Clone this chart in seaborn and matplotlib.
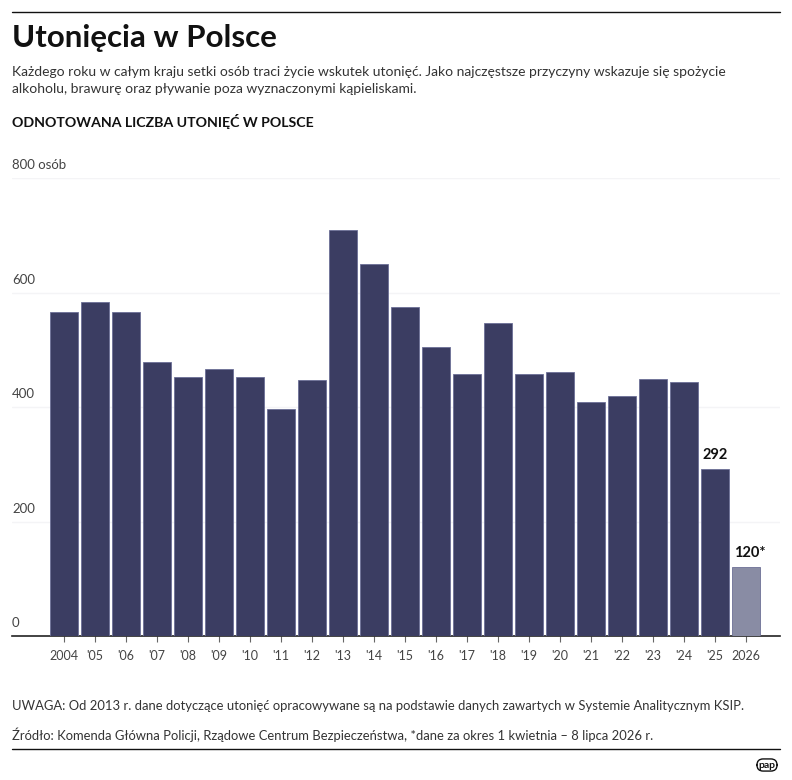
import matplotlib
matplotlib.use("Agg")
import matplotlib.pyplot as plt
import seaborn as sns
import pandas as pd

# data
years = ['2004', "'05", "'06", "'07", "'08", "'09", "'10", "'11", "'12", "'13", "'14",
         "'15", "'16", "'17", "'18", "'19", "'20", "'21", "'22", "'23", "'24", "'25", '2026']
drownings = [566, 584, 566, 478, 452, 467, 453, 396, 448, 710, 650,
             574, 505, 458, 546, 457, 461, 408, 419, 449, 444, 292, 120]
labelled = {"'25": '292', '2026': '120*'}
y_ticks = [0, 200, 400, 600, 800]
y_tick_labels = ['0', '200', '400', '600', '800 osób']

NAVY = '#343868'
LIGHT = '#8588a8'
FONT = ['Lato', 'DejaVu Sans']

W, H = 792, 780


def fx(px):
    return px / W


def fy(py):
    return 1 - py / H


sns.set_theme(style='white')
plt.rcParams['font.family'] = FONT

df = pd.DataFrame({'year': years, 'value': drownings})
colors = {y: (LIGHT if y == '2026' else NAVY) for y in years}

fig = plt.figure(figsize=(W / 100, H / 100), dpi=100)
ax = fig.add_axes([fx(12), fy(636), fx(780) - fx(12), fy(178) - fy(636)])

sns.barplot(data=df, x='year', y='value', hue='year', palette=colors, legend=False,
            width=0.9, edgecolor='#6c6f96', linewidth=0.6, ax=ax, zorder=3)

# bar centres are 31 px apart, first centre at x=64 px
ax.set_xlim((12 - 64) / 31, (780 - 64) / 31)
ax.set_ylim(0, 800)

for v in y_ticks[1:]:
    ax.axhline(v, color='#f4f4f6', lw=1, zorder=1)
for v, lab in zip(y_ticks, y_tick_labels):
    ax.annotate(lab, xy=(0, v), xycoords=('axes fraction', 'data'),
                xytext=(0, 5), textcoords='offset points',
                ha='left', va='bottom', fontsize=9.5, color='#444444')

ax.set_yticks([])
ax.set_xlabel('')
ax.set_ylabel('')
ax.tick_params(axis='x', length=4, width=0.8, color='#666666', pad=6,
               labelsize=9, labelcolor='#444444', bottom=True)
for s in ['top', 'right', 'left']:
    ax.spines[s].set_visible(False)
ax.spines['bottom'].set_color('#222222')
ax.spines['bottom'].set_linewidth(1.2)

for i, y in enumerate(years):
    if y in labelled:
        dx = 0.12 if y == '2026' else 0
        ax.annotate(labelled[y], xy=(i + dx, drownings[i]), xytext=(0, 5),
                    textcoords='offset points', ha='center', va='bottom',
                    fontsize=10.5, fontweight='bold', color='#111111')

# header
fig.add_artist(plt.Line2D([fx(12), fx(780)], [fy(12), fy(12)], color='#111111', lw=1))
fig.text(fx(12), fy(47), 'Utonięcia w Polsce', fontsize=22.5, fontweight='bold',
         color='#111111', va='baseline')
fig.text(fx(12), fy(76), 'Każdego roku w całym kraju setki osób traci życie wskutek utonięć. '
         'Jako najczęstsze przyczyny wskazuje się spożycie', fontsize=10, color='#333333', va='baseline')
fig.text(fx(12), fy(93), 'alkoholu, brawurę oraz pływanie poza wyznaczonymi kąpieliskami.',
         fontsize=10, color='#333333', va='baseline')
fig.text(fx(12), fy(127), 'ODNOTOWANA LICZBA UTONIĘĆ W POLSCE', fontsize=10.2,
         fontweight='bold', color='#111111', va='baseline')

# footer
fig.text(fx(12), fy(710), 'UWAGA: Od 2013 r. dane dotyczące utonięć opracowywane są na podstawie '
         'danych zawartych w Systemie Analitycznym KSIP.', fontsize=9.4, color='#333333', va='baseline')
fig.text(fx(12), fy(740), 'Źródło: Komenda Główna Policji, Rządowe Centrum Bezpieczeństwa, '
         '*dane za okres 1 kwietnia – 8 lipca 2026 r.', fontsize=9.4, color='#333333', va='baseline')
fig.add_artist(plt.Line2D([fx(12), fx(780)], [fy(749), fy(749)], color='#111111', lw=1))
fig.text(fx(767), fy(765), 'pap', fontsize=7.5, fontweight='bold', color='#111111',
         ha='center', va='center',
         bbox=dict(boxstyle='round,pad=0.15,rounding_size=0.6', fc='white', ec='#111111', lw=1))

fig.savefig('out.png', dpi=100)
